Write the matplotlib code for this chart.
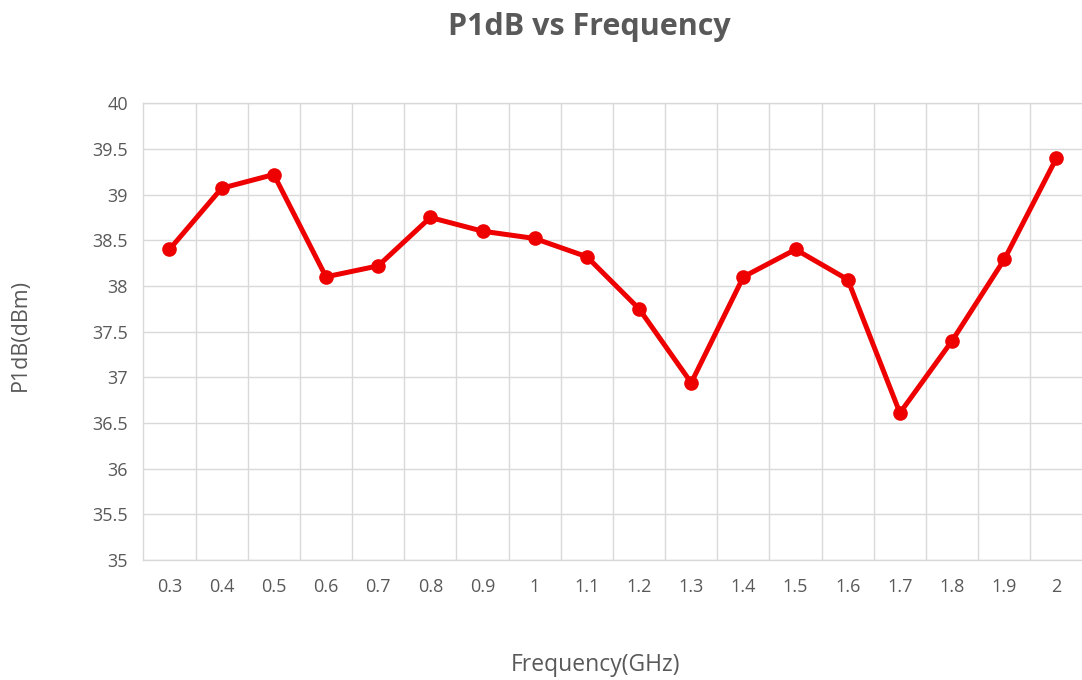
import matplotlib
matplotlib.use('Agg')
import matplotlib.pyplot as plt

freq_labels = ['0.3', '0.4', '0.5', '0.6', '0.7', '0.8', '0.9', '1', '1.1', '1.2',
               '1.3', '1.4', '1.5', '1.6', '1.7', '1.8', '1.9', '2']
p1db = [38.40, 39.07, 39.22, 38.10, 38.22, 38.75, 38.60, 38.52, 38.32, 37.75,
        36.94, 38.10, 38.40, 38.07, 36.61, 37.40, 38.29, 39.40]
y_ticks = [35, 35.5, 36, 36.5, 37, 37.5, 38, 38.5, 39, 39.5, 40]
y_tick_labels = ['35', '35.5', '36', '36.5', '37', '37.5', '38', '38.5', '39', '39.5', '40']

plt.rcParams['font.family'] = ['Open Sans', 'DejaVu Sans']
text_col = '#595959'
grid_col = '#d9d9d9'

fig = plt.figure(figsize=(10.82, 6.8), dpi=100)
ax = fig.add_axes([0.1325, 0.1765, 0.868, 0.6716])

x = list(range(len(freq_labels)))
ax.plot(x, p1db, color='#ee0000', lw=3.6, marker='o', markersize=9.5,
        solid_joinstyle='round', zorder=3)

ax.set_xlim(-0.5, len(freq_labels) - 0.5)
ax.set_ylim(35, 40)
ax.set_yticks(y_ticks)
ax.set_yticklabels(y_tick_labels)
ax.set_xticks(x)
ax.set_xticklabels(freq_labels)
# gridlines between categories, like Excel
ax.set_xticks([i + 0.5 for i in x[:-1]], minor=True)
ax.grid(True, which='minor', axis='x', color=grid_col, lw=1)
ax.grid(True, which='major', axis='y', color=grid_col, lw=1)
ax.set_axisbelow(True)
ax.tick_params(which='both', length=0)
ax.tick_params(axis='x', pad=13, labelsize=13, labelcolor=text_col)
ax.tick_params(axis='y', pad=11, labelsize=13, labelcolor=text_col)
for s in ax.spines.values():
    s.set_color(grid_col)
    s.set_linewidth(1)

fig.text(0.545, 0.960, 'P1dB vs Frequency', ha='center', va='center',
         fontsize=22, fontweight='bold', color=text_col)
fig.text(0.550, 0.022, 'Frequency(GHz)', ha='center', va='center',
         fontsize=16.5, color=text_col)
fig.text(0.0185, 0.507, 'P1dB(dBm)', ha='center', va='center', rotation=90,
         fontsize=15.5, color=text_col)

fig.savefig('out.png', dpi=100)
